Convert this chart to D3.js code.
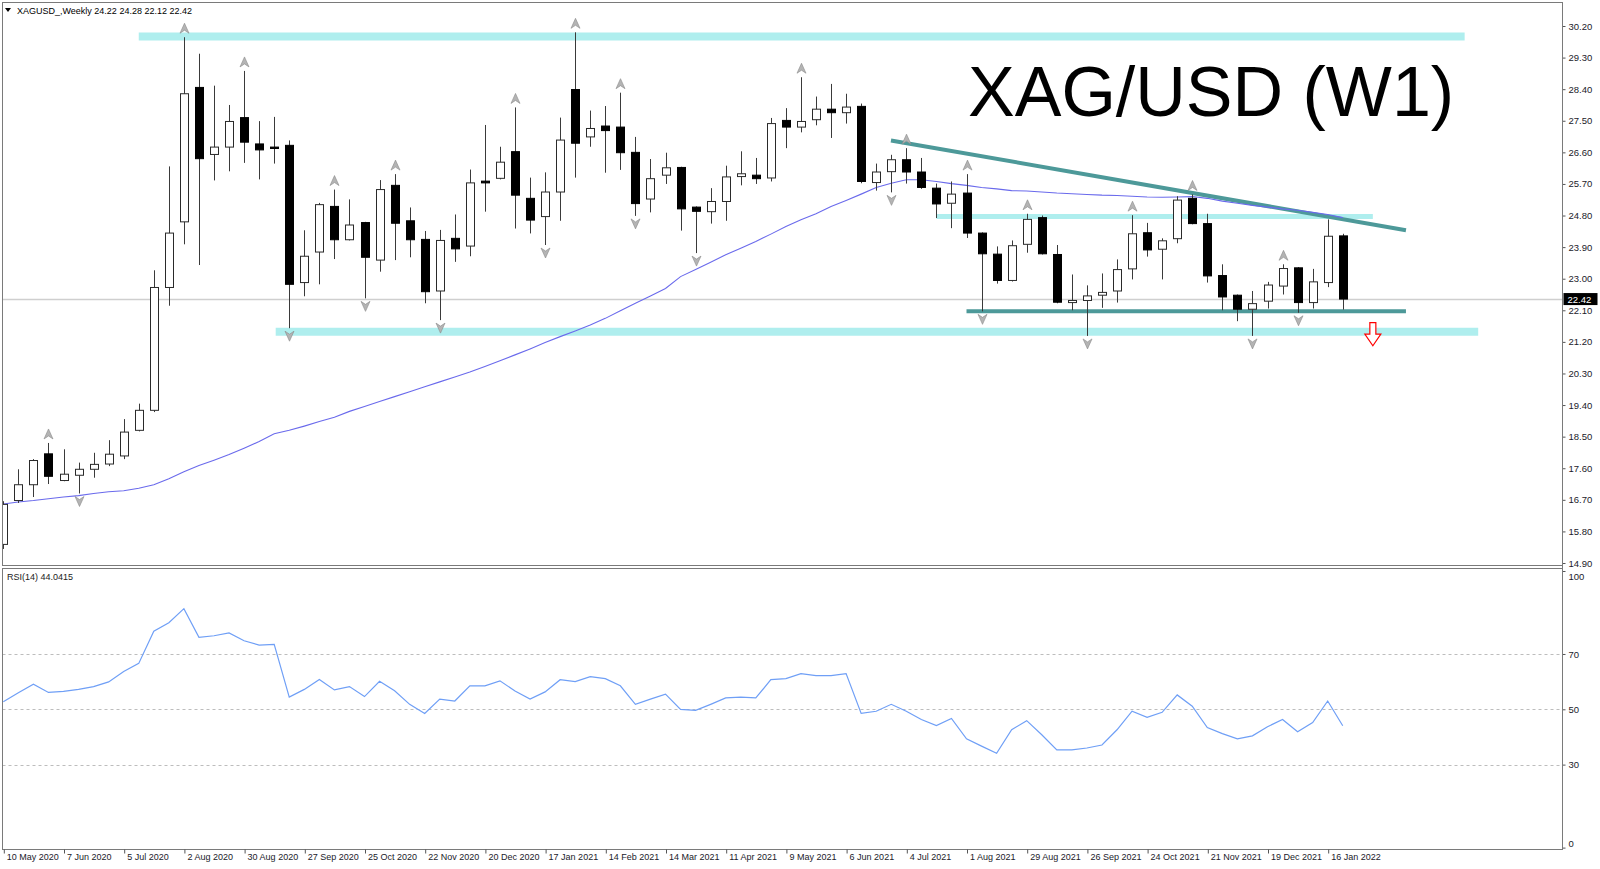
<!DOCTYPE html>
<html><head><meta charset="utf-8">
<script src="https://cdn.jsdelivr.net/npm/d3@7"></script>
<style>
html,body{margin:0;padding:0;background:#fff;overflow:hidden;}
svg{display:block;}
text{font-family:"Liberation Sans",Arial,sans-serif;}
</style></head><body>
<svg id="c" width="1600" height="869"></svg>
<script>
// ---------- DATA ----------
const symbolLabel = "XAGUSD_,Weekly";
const headerOHLC = "24.22 24.28 22.12 22.42";
const titleText = "XAG/USD (W1)";
const rsiLabel = "RSI(14) 44.0415";
const lastPrice = 22.42;

const tickBars = [0,4,8,12,16,20,24,28,32,36,40,44,48,52,56,60,64,68,72,76,80,84,88];
const tickLabels = ["10 May 2020","7 Jun 2020","5 Jul 2020","2 Aug 2020","30 Aug 2020","27 Sep 2020","25 Oct 2020","22 Nov 2020","20 Dec 2020","17 Jan 2021","14 Feb 2021","14 Mar 2021","11 Apr 2021","9 May 2021","6 Jun 2021","4 Jul 2021","1 Aug 2021","29 Aug 2021","26 Sep 2021","24 Oct 2021","21 Nov 2021","19 Dec 2021","16 Jan 2022"];

const priceTicks = [30.20,29.30,28.40,27.50,26.60,25.70,24.80,23.90,23.00,22.10,21.20,20.30,19.40,18.50,17.60,16.70,15.80,14.90];
const rsiTicks = [100,70,50,30,0];
const rsiLevels = [70,50,30];

const opens  = [15.43,16.68,17.13,18.01,17.25,17.40,17.57,17.72,17.95,18.68,19.25,22.75,24.62,28.45,26.54,26.75,27.59,26.84,26.75,26.80,
                22.89,23.76,25.06,24.11,24.60,23.53,25.66,24.65,24.12,22.65,24.15,23.93,25.78,25.86,26.62,25.29,24.77,25.47,28.39,27.04,
                27.35,27.32,26.60,25.27,25.95,26.17,25.04,24.91,25.20,25.91,25.95,25.87,27.51,27.32,27.53,27.83,27.73,27.91,25.74,26.05,
                26.39,26.04,25.58,25.15,25.44,24.30,23.70,22.95,23.98,24.74,23.69,22.32,22.38,22.53,22.65,23.28,24.31,23.84,24.14,25.29,
                24.57,23.09,22.53,22.13,22.36,22.79,23.31,22.32,22.89,24.22];
const highs  = [16.66,17.57,17.86,18.32,18.14,17.76,18.04,18.40,19.00,19.44,23.24,26.20,29.88,29.41,28.50,27.95,28.92,27.49,27.61,26.94,
                24.38,25.16,25.54,25.26,24.62,25.81,25.98,25.03,24.36,24.39,24.83,26.11,27.38,26.76,27.88,25.88,26.03,27.59,30.02,27.79,
                27.92,28.30,27.04,26.41,26.59,26.19,25.06,25.58,26.22,26.63,26.44,27.58,27.86,28.74,28.19,28.55,28.27,27.99,26.28,26.53,
                26.72,26.44,25.71,25.77,25.98,24.32,23.92,24.09,24.85,24.80,23.96,23.12,22.81,23.15,23.55,24.81,24.59,24.15,25.35,25.40,
                24.85,23.41,22.55,22.65,22.91,23.41,23.33,23.28,24.69,24.28];
const lows   = [15.30,16.61,16.78,17.15,17.23,16.88,17.33,17.66,17.86,18.65,19.20,22.23,23.98,23.39,25.80,26.06,26.30,25.83,26.28,21.59,
                22.50,22.84,23.56,24.09,22.44,23.20,23.53,23.61,22.30,21.82,23.48,23.64,24.91,25.83,24.43,24.29,23.96,24.65,25.88,26.76,
                26.02,26.10,24.79,24.89,25.70,24.37,23.73,24.57,24.65,25.66,25.70,25.77,26.72,27.17,27.37,27.01,27.42,25.72,25.51,25.46,
                25.71,25.56,24.73,24.44,24.16,22.07,22.86,22.92,23.74,23.69,22.30,22.10,21.37,22.17,22.32,22.98,23.63,22.98,24.01,24.55,
                22.89,22.10,21.79,21.37,22.15,22.55,22.03,22.15,22.76,22.12];
const closes = [16.57,17.13,17.82,17.37,17.43,17.57,17.71,18.00,18.63,19.25,22.75,24.30,28.27,26.42,26.75,27.48,26.89,26.67,26.71,22.84,
                23.64,25.11,24.11,24.53,23.61,25.54,24.58,24.11,22.63,24.09,23.85,25.73,25.73,26.32,25.38,24.67,25.47,26.95,26.86,27.28,
                27.22,26.59,25.14,25.85,26.16,24.99,24.92,25.20,25.90,25.99,25.85,27.42,27.32,27.48,27.83,27.73,27.89,25.77,26.04,26.39,
                26.04,25.60,25.13,25.41,24.30,23.71,22.95,23.94,24.69,23.71,22.33,22.38,22.51,22.61,23.26,24.28,23.82,24.08,25.24,24.57,
                23.08,22.48,22.13,22.29,22.82,23.29,22.32,22.91,24.21,22.42];

const maValues = [16.58,16.64,16.68,16.73,16.78,16.82,16.88,16.93,16.96,17.03,17.13,17.30,17.50,17.68,17.83,17.99,18.17,18.36,18.58,18.68,
                  18.80,18.93,19.05,19.22,19.36,19.50,19.64,19.78,19.92,20.06,20.20,20.34,20.50,20.66,20.83,21.00,21.18,21.35,21.51,21.68,
                  21.87,22.09,22.30,22.51,22.72,23.06,23.26,23.47,23.68,23.87,24.06,24.27,24.49,24.68,24.85,25.06,25.23,25.41,25.60,25.72,
                  25.82,25.82,25.77,25.71,25.66,25.60,25.56,25.51,25.50,25.47,25.44,25.42,25.40,25.38,25.37,25.35,25.33,25.32,25.33,25.34,
                  25.29,25.21,25.15,25.09,25.04,24.99,24.95,24.89,24.83,24.74];

const rsiValues = [52.7,56.0,59.1,56.1,56.5,57.2,58.2,59.9,63.7,66.6,78.2,81.3,86.4,76.0,76.6,77.6,74.8,73.2,73.5,54.4,
                   57.2,60.8,57.0,58.2,54.6,60.1,56.7,51.8,48.5,53.7,53.0,58.5,58.5,60.3,56.6,53.7,56.3,60.7,60.0,61.8,
                   61.1,58.5,51.8,53.7,55.5,50.0,49.6,51.8,54.1,54.4,54.1,60.7,61.1,62.9,62.2,62.2,62.9,48.5,49.3,51.8,
                   49.3,46.3,44.1,46.7,39.3,36.7,34.1,42.6,45.9,40.8,35.3,35.3,36.0,37.1,42.6,49.3,47.1,48.9,55.2,51.1,
                   43.4,41.2,39.3,40.4,43.7,46.3,41.9,45.2,53.0,44.04];

const upFractals   = [3,12,16,22,26,34,38,41,53,60,64,68,75,79,85];
const downFractals = [5,19,24,29,36,42,46,59,65,72,83,86];

// drawn objects, in [bar index, price] terms
const zoneTop    = {from: 9.0,  to: 97.1, price: 29.90};
const zoneBottom = {from: 18.1, to: 98.0, price: 21.49};
const zoneMid    = {from: 62.0, to: 91.0, price: 24.77};
const trendLine  = [[58.98, 26.94],[93.2, 24.38]];
const supportLine= [[64.0, 22.07],[93.2, 22.07]];
const signalArrow= {bar: 91.0, top: 21.75, bottom: 21.09};

// ---------- LAYOUT ----------
const svg = d3.select('#c');
const L = 2.5, R = 1562.5, mainTop = 2.5, mainBot = 565.5, rsiTop = 568.5, rsiBot = 849.5;

const xs = d3.scaleLinear().domain([0, 89]).range([3.3, 3.3 + 89*15.05]);
const ys = d3.scaleLinear().domain([14.90, 30.20]).range([563, 26]);
const yr = d3.scaleLinear().domain([0, 100]).range([847.6, 571]);

const defs = svg.append('defs');
defs.append('clipPath').attr('id','clipMain').append('rect')
  .attr('x', L+0.5).attr('y', mainTop+0.5).attr('width', R-L-1).attr('height', mainBot-mainTop-1);
defs.append('clipPath').attr('id','clipRsi').append('rect')
  .attr('x', L+0.5).attr('y', rsiTop+0.5).attr('width', R-L-1).attr('height', rsiBot-rsiTop-1);

const gMain = svg.append('g').attr('clip-path','url(#clipMain)');
const gRsi = svg.append('g').attr('clip-path','url(#clipRsi)');

// zones
const zoneColor = '#afeeee';
[[zoneTop,8],[zoneBottom,8],[zoneMid,5]].forEach(([z,w])=>{
  gMain.append('line').attr('x1', xs(z.from)).attr('x2', xs(z.to))
    .attr('y1', ys(z.price)).attr('y2', ys(z.price))
    .attr('stroke', zoneColor).attr('stroke-width', w);
});

// current price line
gMain.append('line').attr('x1', L).attr('x2', R).attr('y1', Math.round(ys(lastPrice))+0.5).attr('y2', Math.round(ys(lastPrice))+0.5)
  .attr('stroke','#cfcfcf').attr('stroke-width',1.3);

// trend & support lines
const tealColor = '#4d9999';
[trendLine, supportLine].forEach(seg=>{
  gMain.append('line').attr('x1', xs(seg[0][0])).attr('y1', ys(seg[0][1]))
    .attr('x2', xs(seg[1][0])).attr('y2', ys(seg[1][1]))
    .attr('stroke', tealColor).attr('stroke-width', 4);
});

// moving average
const bars = d3.range(opens.length);
gMain.append('path').datum(bars)
  .attr('d', d3.line().x(i=>xs(i)).y(i=>ys(maValues[i])))
  .attr('fill','none').attr('stroke','#6a6aec').attr('stroke-width',1.1);

// candles
const cx = i => Math.round(xs(i));
gMain.selectAll('line.wick').data(bars).join('line').attr('class','wick')
  .attr('x1', i=>cx(i)+0.5).attr('x2', i=>cx(i)+0.5)
  .attr('y1', i=>ys(highs[i])).attr('y2', i=>ys(lows[i]))
  .attr('stroke','#3a3a3a').attr('stroke-width',1);
gMain.selectAll('rect.body').data(bars).join('rect').attr('class','body')
  .attr('x', i=>cx(i)-4+0.5)
  .attr('y', i=>ys(Math.max(opens[i],closes[i])))
  .attr('width', 8)
  .attr('height', i=>Math.max(1, Math.abs(ys(opens[i])-ys(closes[i]))))
  .attr('fill', i=> closes[i] >= opens[i] ? '#ffffff' : '#000000')
  .attr('stroke', i=> closes[i] >= opens[i] ? '#2a2a2a' : '#000000')
  .attr('stroke-width',1);

// fractals
const upPath = 'M0,-5 L4.5,5 L0,2 L-4.5,5 Z';
const dnPath = 'M0,5 L4.5,-5 L0,-2 L-4.5,-5 Z';
gMain.selectAll('path.fu').data(upFractals).join('path').attr('class','fu')
  .attr('d', upPath).attr('transform', i=>`translate(${cx(i)+0.5},${ys(highs[i])-9})`)
  .attr('fill','#b4b4b4').attr('stroke','#8a8a8a').attr('stroke-width',0.6);
gMain.selectAll('path.fd').data(downFractals).join('path').attr('class','fd')
  .attr('d', dnPath).attr('transform', i=>`translate(${cx(i)+0.5},${ys(lows[i])+8})`)
  .attr('fill','#b4b4b4').attr('stroke','#8a8a8a').attr('stroke-width',0.6);

// red signal arrow (outline)
{
  const ax = xs(signalArrow.bar), at = ys(signalArrow.top), ab = ys(signalArrow.bottom);
  const h = ab-at, sw = 3, hw = 8, headH = h*0.5;
  const p = `M${ax-sw},${at} L${ax+sw},${at} L${ax+sw},${ab-headH} L${ax+hw},${ab-headH} L${ax},${ab} L${ax-hw},${ab-headH} L${ax-sw},${ab-headH} Z`;
  gMain.append('path').attr('d', p).attr('fill','#fff').attr('stroke','#ff0000').attr('stroke-width',1.2);
}

// title
svg.append('text').attr('x', 968).attr('y', 116).text(titleText)
  .attr('font-size', 70).attr('fill','#000');

// header
svg.append('path').attr('d','M5,8 L11,8 L8,12 Z').attr('fill','#000');
svg.append('text').attr('x', 17).attr('y', 13.5).attr('font-size', 9).attr('fill','#000')
  .text(symbolLabel + ' ' + headerOHLC);

// RSI panel
gRsi.selectAll('line.lvl').data(rsiLevels).join('line').attr('class','lvl')
  .attr('x1', L).attr('x2', R).attr('y1', d=>Math.round(yr(d))+0.5).attr('y2', d=>Math.round(yr(d))+0.5)
  .attr('stroke','#bdbdbd').attr('stroke-dasharray','3,3');
gRsi.append('path').datum(bars)
  .attr('d', d3.line().x(i=>xs(i)).y(i=>yr(rsiValues[i])))
  .attr('fill','none').attr('stroke','#6f9ff6').attr('stroke-width',1.2);
svg.append('text').attr('x', 7).attr('y', 580).attr('font-size', 9).attr('fill','#222').text(rsiLabel);

// frames
const frameColor = '#7a7a7a';
svg.append('rect').attr('x', L).attr('y', mainTop).attr('width', R-L).attr('height', mainBot-mainTop)
  .attr('fill','none').attr('stroke',frameColor);
svg.append('rect').attr('x', L).attr('y', rsiTop).attr('width', R-L).attr('height', rsiBot-rsiTop)
  .attr('fill','none').attr('stroke',frameColor);

// price axis
const axP = svg.append('g').attr('transform', `translate(${R},0)`)
  .call(d3.axisRight(ys).tickValues(priceTicks).tickFormat(d3.format('.2f')).tickSize(3).tickPadding(3));
axP.select('.domain').remove();
axP.selectAll('line').attr('stroke','#555');
axP.selectAll('text').attr('font-size', 9.5).attr('fill','#1a1a2a').attr('font-family','"Liberation Sans",Arial,sans-serif');

// last price label
const lpY = ys(lastPrice);
svg.append('rect').attr('x', R+1).attr('y', lpY-6).attr('width', 34).attr('height', 12).attr('fill','#000');
svg.append('text').attr('x', R+5).attr('y', lpY+3.5).attr('font-size', 9.5).attr('fill','#fff').text(lastPrice.toFixed(2));

// RSI axis
const axR = svg.append('g').attr('transform', `translate(${R},0)`)
  .call(d3.axisRight(yr).tickValues(rsiTicks).tickFormat(d3.format('d')).tickSize(3).tickPadding(3));
axR.select('.domain').remove();
axR.selectAll('line').attr('stroke','#555');
axR.selectAll('text').attr('font-size', 9.5).attr('fill','#1a1a2a').attr('font-family','"Liberation Sans",Arial,sans-serif')
  .attr('dy', d => d===100 ? '0.9em' : (d===0 ? '-0.1em' : '0.32em'));

// right axis line
svg.append('line').attr('x1', R).attr('x2', R).attr('y1', mainTop).attr('y2', rsiBot).attr('stroke', frameColor);

// date axis
const axD = svg.append('g').attr('transform', `translate(0,${rsiBot})`)
  .call(d3.axisBottom(xs).tickValues(tickBars).tickFormat((d,k)=>tickLabels[k]).tickSize(4).tickPadding(2));
axD.select('.domain').remove();
axD.selectAll('line').attr('stroke','#555').attr('transform','translate(0.5,0)');
axD.selectAll('text').attr('font-size', 9).attr('fill','#1a1a2a').attr('text-anchor','start')
  .attr('font-family','"Liberation Sans",Arial,sans-serif').attr('x', 3).attr('y', 4);
</script>
</body></html>
